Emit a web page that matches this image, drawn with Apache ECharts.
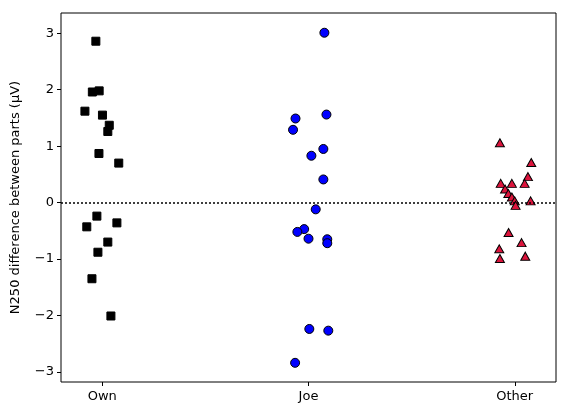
<!DOCTYPE html>
<html>
<head>
<meta charset="utf-8">
<script src="https://cdn.jsdelivr.net/npm/echarts@6/dist/echarts.min.js"></script>
<style>
  html, body { margin: 0; padding: 0; background: #fff; }
  #chart { width: 569px; height: 416px; }
</style>
</head>
<body>
<div id="chart"></div>
<script>
// categories on the x axis (positions 0, 1, 2)
const categories = ['Own', 'Joe', 'Other']
const yTicks = [-3, -2, -1, 0, 1, 2, 3]

// jittered x position and value (µV) of every point
const ownX = [-0.031, -0.048, -0.015, -0.084, 0.001, 0.034, 0.027, -0.016, 0.080, -0.026, -0.075, 0.071, 0.027, -0.021, -0.050, 0.042]
const ownY = [2.86, 1.96, 1.98, 1.62, 1.55, 1.37, 1.26, 0.87, 0.70, -0.24, -0.43, -0.36, -0.70, -0.88, -1.35, -2.01]

const joeX = [1.077, 0.937, 1.087, 0.925, 1.072, 1.014, 1.072, 1.035, 0.979, 0.946, 1.000, 1.091, 1.091, 1.004, 1.096, 0.935]
const joeY = [3.01, 1.49, 1.56, 1.29, 0.95, 0.83, 0.41, -0.12, -0.47, -0.52, -0.64, -0.65, -0.72, -2.24, -2.27, -2.84]

const otherX = [1.928, 2.080, 2.064, 1.932, 1.986, 2.048, 1.953, 1.969, 1.986, 2.000, 2.077, 2.004, 1.970, 2.033, 1.925, 1.928, 2.051]
const otherY = [1.06, 0.71, 0.46, 0.34, 0.34, 0.34, 0.24, 0.16, 0.10, 0.03, 0.03, -0.05, -0.53, -0.71, -0.82, -0.99, -0.95]

const pairs = (xs, ys) => xs.map((x, i) => [x, ys[i]])

const font = 'DejaVu Sans'
const chart = echarts.init(document.getElementById('chart'))

chart.setOption({
  animation: false,
  backgroundColor: '#fff',
  grid: {
    left: 61,
    right: 13,
    top: 13,
    bottom: 34,
    show: true,
    borderColor: '#000',
    borderWidth: 1
  },
  xAxis: {
    type: 'value',
    min: -0.2,
    max: 2.2,
    splitLine: {show: false},
    axisLine: {show: false, onZero: false},
    axisTick: {
      show: true,
      length: 4,
      lineStyle: {color: '#000'},
      customValues: [0, 1, 2]
    },
    axisLabel: {
      color: '#000',
      fontFamily: font,
      fontSize: 13,
      margin: 8,
      customValues: [0, 1, 2],
      formatter: v => categories[Math.round(v)]
    }
  },
  yAxis: {
    type: 'value',
    min: -3.18,
    max: 3.36,
    name: 'N250 difference between parts (µV)',
    nameLocation: 'middle',
    nameGap: 39,
    nameTextStyle: {color: '#000', fontFamily: font, fontSize: 13},
    splitLine: {show: false},
    axisLine: {show: false, onZero: false},
    axisTick: {
      show: true,
      length: 4,
      lineStyle: {color: '#000'},
      customValues: yTicks
    },
    axisLabel: {
      color: '#000',
      fontFamily: font,
      fontSize: 13,
      margin: 7,
      customValues: yTicks,
      formatter: v => (v < 0 ? '\u2212' + Math.abs(v) : String(v))
    }
  },
  series: [
    {
      type: 'scatter',
      data: pairs(ownX, ownY),
      symbol: 'rect',
      symbolSize: 8,
      itemStyle: {color: '#000', borderColor: '#000', borderWidth: 1, opacity: 1},
      markLine: {
        silent: true,
        symbol: 'none',
        label: {show: false},
        lineStyle: {color: '#000', type: [2, 2], width: 1.5},
        data: [{yAxis: 0}]
      }
    },
    {
      type: 'scatter',
      data: pairs(joeX, joeY),
      symbol: 'circle',
      symbolSize: 9,
      itemStyle: {color: '#0000ff', borderColor: '#000', borderWidth: 1, opacity: 1}
    },
    {
      type: 'scatter',
      data: pairs(otherX, otherY),
      symbol: 'triangle',
      symbolSize: [9, 8],
      itemStyle: {color: '#dc143c', borderColor: '#000', borderWidth: 1, opacity: 1}
    }
  ]
})
</script>
</body>
</html>
